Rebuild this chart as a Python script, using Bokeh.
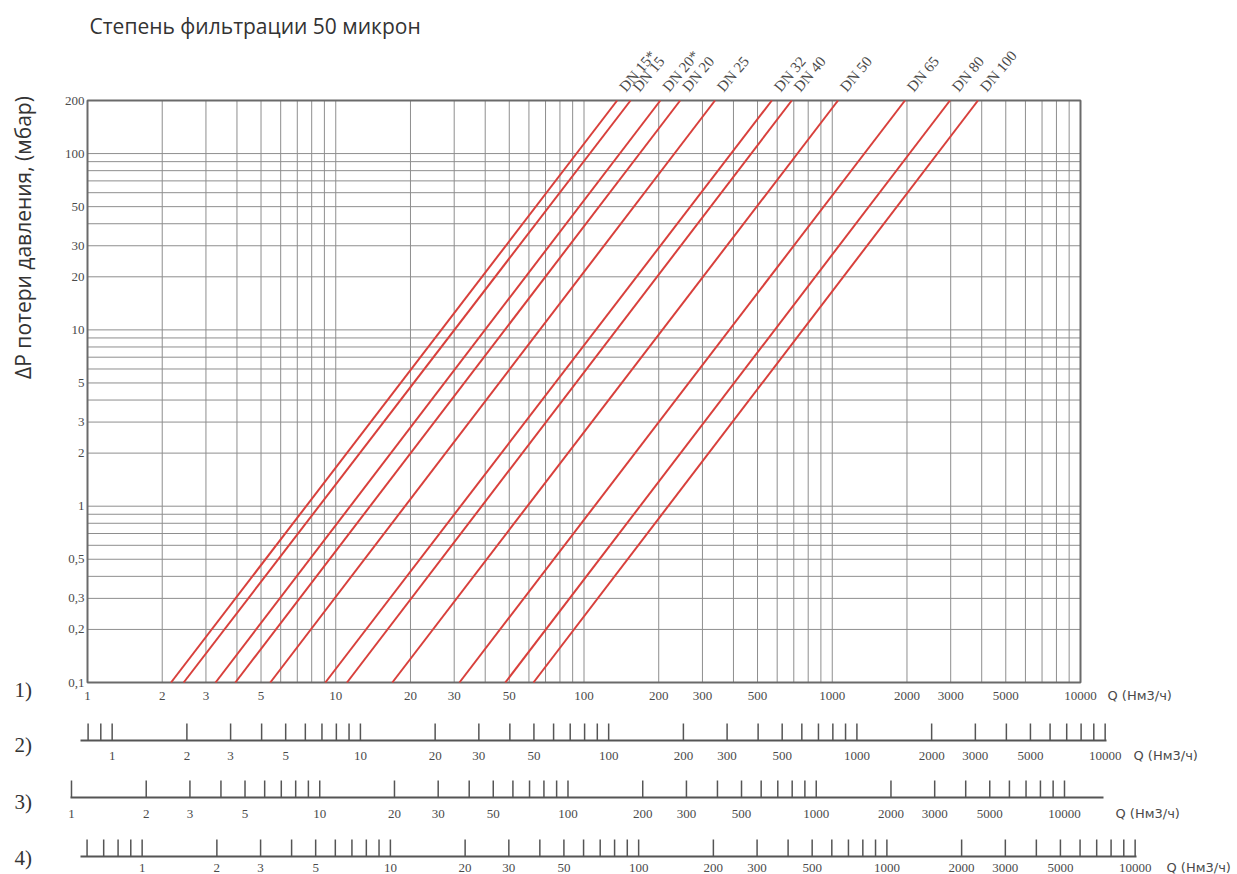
import math
from bokeh.plotting import figure
from bokeh.models import Range1d
from bokeh.core.properties import value
from bokeh.embed import file_html
from bokeh.resources import INLINE

# ---------------- data ----------------
title_text = "Степень фильтрации 50 микрон"
y_title = "ΔP потери давления, (мбар)"
q_unit = "Q (Нм3/ч)"
dn_labels = ["DN 15*", "DN 15", "DN 20*", "DN 20", "DN 25", "DN 32",
             "DN 40", "DN 50", "DN 65", "DN 80", "DN 100"]
# flow Q at the lowest (0.1 mbar) and highest (200 mbar) pressure loss
q_at_dp_low = [2.17, 2.44, 3.28, 3.94, 5.45, 9.08, 11.1, 16.9, 31.5, 48.2, 62.6]
q_at_dp_high = [136, 154, 203, 244, 337, 571, 687, 1055, 1963, 2980, 3864]
dp_low, dp_high = 0.1, 200
q_min, q_max = 1, 10000
y_tick_values = [0.1, 0.2, 0.3, 0.5, 1, 2, 3, 5, 10, 20, 30, 50, 100, 200]
y_tick_labels = ["0,1", "0,2", "0,3", "0,5", "1", "2", "3", "5", "10", "20", "30", "50", "100", "200"]
q_tick_values = [1, 2, 3, 5, 10, 20, 30, 50, 100, 200, 300, 500,
                 1000, 2000, 3000, 5000, 10000]
q_tick_labels = [str(v) for v in q_tick_values]
grid_mantissas = [1, 2, 3, 4, 5, 6, 7, 8, 9]
scale_names = ["1)", "2)", "3)", "4)"]
# flow on the main scale that corresponds to 1 on each of the four scales
scale_shift = [1.0, 1.257, 0.862, 1.66]
# first minor tick on the lower scales 2), 3), 4)
scale_first_tick = [None, 0.8, 1.0, 0.6]

# ---------------- layout ----------------
W, H = 1237, 874
FX0, FX1 = 87, 1080        # main chart box, px
FY0, FY1 = 100, 682
DX = (FX1 - FX0) / math.log10(q_max / q_min)
DY = (FY1 - FY0) / math.log10(dp_high / dp_low)
RED = "#d8403c"
GRID = "#8e8e8e"
BOX = "#6a6a6a"
TXT = "#4a4a4a"
DARK = "#333333"
SERIF = "Liberation Serif"
SANS = "Open Sans"


def qx(px):
    """main-scale Q at canvas x"""
    return q_min * 10 ** ((px - FX0) / DX)


def dpy(py):
    """pressure loss at canvas y"""
    return dp_low * 10 ** ((FY1 - py) / DY)


def decade_values(lo, hi):
    out = []
    e = math.floor(math.log10(lo)) - 1
    while 10 ** e <= hi * 10:
        for m in grid_mantissas:
            v = round(m * 10 ** e, 6)
            if lo * (1 - 1e-9) <= v <= hi * (1 + 1e-9):
                out.append(v)
        e += 1
    return out


p = figure(width=W, height=H, x_axis_type="log", y_axis_type="log",
           x_range=Range1d(qx(0), qx(W)), y_range=Range1d(dpy(H), dpy(0)),
           x_axis_location=None, y_axis_location=None, min_border=0,
           output_backend="svg", toolbar_location=None)
p.center = []
p.outline_line_color = None

# grid of the chart
gx = decade_values(q_min, q_max)
gy = decade_values(dp_low, dp_high)
p.segment(x0=gx, y0=[dp_low] * len(gx), x1=gx, y1=[dp_high] * len(gx),
          line_color=GRID, line_width=1)
p.segment(x0=[q_min] * len(gy), y0=gy, x1=[q_max] * len(gy), y1=gy,
          line_color=GRID, line_width=1)
p.quad(left=[q_min], right=[q_max], bottom=[dp_low], top=[dp_high],
       fill_color=None, line_color=BOX, line_width=2)

# pressure-loss lines
p.multi_line(xs=[[a, b] for a, b in zip(q_at_dp_low, q_at_dp_high)],
             ys=[[dp_low, dp_high] for _ in dn_labels],
             line_color=RED, line_width=2)

# DN names at the upper end of each line
p.text(x=q_at_dp_high, y=[dp_high] * len(dn_labels), text=dn_labels,
       angle=math.radians(50), x_offset=5, y_offset=-11,
       text_align="left", text_baseline="alphabetic",
       text_font=value(SERIF), text_font_size="15px", text_color=TXT)

# y tick labels
p.text(x=[qx(FX0 - 3)] * len(y_tick_values), y=y_tick_values, text=y_tick_labels,
       text_align="right", text_baseline="middle",
       text_font=value(SERIF), text_font_size="13px", text_color=TXT)

# titles
p.text(x=[qx(89)], y=[dpy(25)], text=[title_text], text_align="left",
       text_baseline="middle", text_font=value(SANS), text_font_size="21px",
       text_color=DARK)
p.text(x=[qx(22)], y=[dpy(237)], text=[y_title], angle=math.pi / 2,
       text_align="center", text_baseline="middle", text_font=value(SANS),
       text_font_size="21px", text_color=DARK)

# the four flow scales: axis line y, line x extent, label y, name y, unit x
rows = [
    (None, None, None, 695, 689, 1107),
    (740, 80, 1106, 755, 744, 1133),
    (797, 70, 1103, 813, 801, 1115),
    (856, 80, 1136, 867, 857, 1166),
]
for k, (ly, lx0, lx1, ty, ny, ux) in enumerate(rows):
    shift = scale_shift[k]
    if ly is not None:
        p.segment(x0=[qx(lx0)], y0=[dpy(ly)], x1=[qx(lx1)], y1=[dpy(ly)],
                  line_color="#555555", line_width=2)
        ticks = decade_values(scale_first_tick[k], q_max)
        p.segment(x0=[v * shift for v in ticks], y0=[dpy(ly)] * len(ticks),
                  x1=[v * shift for v in ticks], y1=[dpy(ly - 17)] * len(ticks),
                  line_color="#555555", line_width=1.5)
    p.text(x=[v * shift for v in q_tick_values], y=[dpy(ty)] * len(q_tick_values),
           text=q_tick_labels, text_align="center", text_baseline="middle",
           text_font=value(SERIF), text_font_size="13px", text_color=TXT)
    p.text(x=[qx(ux)], y=[dpy(ty)], text=[q_unit], text_align="left",
           text_baseline="middle", text_font=value("DejaVu Sans"),
           text_font_size="13px", text_color=TXT)
    p.text(x=[qx(14)], y=[dpy(ny)], text=[scale_names[k]], text_align="left",
           text_baseline="middle", text_font=value(SERIF), text_font_size="21px",
           text_color=DARK)

open("out.html", "w").write(file_html(p, INLINE))
